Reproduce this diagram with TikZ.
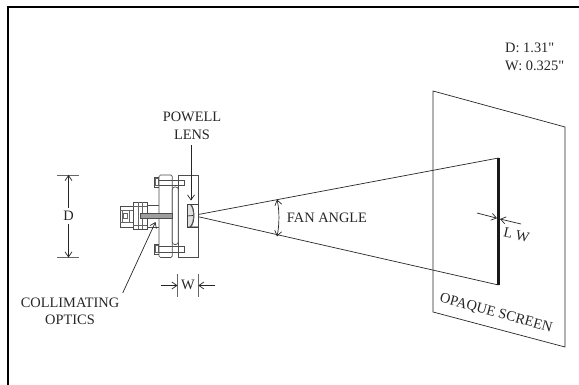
\documentclass[tikz,border=0pt]{standalone}
\usepackage{fontspec}
\setmainfont{Liberation Serif}
\newfontfamily\plainserif{Liberation Serif}
\usetikzlibrary{arrows.meta}
\tikzset{
  x=1pt,y=-1pt,
  lab/.style={font=\fontsize{14.4}{17.5}\selectfont,text=black!85,inner sep=0pt,align=center},
  part/.style={draw=black!70,line width=0.7pt},
  fine/.style={draw=black!60,line width=0.5pt},
  ray/.style={draw=black!85,line width=0.7pt},
  dimline/.style={draw=black!85,line width=0.7pt,{Straight Barb[length=5pt,width=7pt]}-{Straight Barb[length=5pt,width=7pt]}},
  onearrow/.style={draw=black!85,line width=0.7pt,-{Straight Barb[length=5pt,width=7pt]}},
  tick/.style={draw=black!60,line width=0.8pt},
}
\begin{document}
\begin{tikzpicture}
\useasboundingbox (0,0) rectangle (579,385);
% frame
\draw[line width=2pt] (8,385) -- (8,7.5) -- (579,7.5);
% screen
\draw[ray] (433,91) -- (565,127) -- (565,347) -- (433,312) -- cycle;
% text
\node[lab,align=left,anchor=west,font=\fontsize{14.4}{17.5}\plainserif] (spec) at (505,57) {D: 1.31"\\W: 0.325"};
\node[lab] (powell) at (192,126) {POWELL\\LENS};
\node[lab] (coll) at (70,311.5) {COLLIMATING\\OPTICS};
\node[lab] (fan) at (327,218) {FAN ANGLE};
\node[lab,rotate=-15.5] (opaque) at (496,313.5) {OPAQUE SCREEN};
\node[lab,rotate=-13] (lw) at (516.5,235) {L W};
\node[lab] (dlab) at (68.5,216) {D};
\node[lab] (wlab) at (188,285) {W};
% fan
\coordinate (apex) at (193,215.5);
\coordinate (ltop) at (498.5,158);
\coordinate (lbot) at (498.5,285);
\draw[ray] (ltop) -- (apex) -- (lbot);
\draw[line width=2.2pt,black!90] (ltop) -- (lbot);
% fan angle arc
\draw[dimline] (277,199.5) .. controls (279.5,210) and (279.5,225) .. (277,236.5);
% LW marks
\coordinate (lwa) at (477,213);
\coordinate (lwb) at (521,224);
\coordinate (lwc) at (497,218.2);
\coordinate (lwd) at (500,219);
\draw[onearrow] (lwa) -- (lwc);
\draw[onearrow] (lwb) -- (lwd);
% D dimension
\coordinate (dt1) at (57,175); \coordinate (dt2) at (79,175);
\coordinate (db1) at (57,257.5); \coordinate (db2) at (79,257.5);
\coordinate (da) at (68.5,175); \coordinate (db) at (68.5,257.5);
\draw[tick] (dt1) -- (dt2);
\draw[tick] (db1) -- (db2);
\draw[onearrow] (dlab.north) ++(0,-3) -- (da);
\draw[onearrow] (dlab.south) ++(0,3) -- (db);
% W dimension
\coordinate (wa) at (177.8,274); \coordinate (wb) at (177.8,297);
\coordinate (wc) at (198,274); \coordinate (wd) at (198,297);
\draw[tick] (wa) -- (wb);
\draw[tick] (wc) -- (wd);
\coordinate (wl) at (161,285.5); \coordinate (wr) at (215,285.5);
\coordinate (wlt) at (177.5,285.5); \coordinate (wrt) at (198.3,285.5);
\draw[onearrow] (wl) -- (wlt);
\draw[onearrow] (wr) -- (wrt);
% collimator
\draw[part,fill=white] (120,206) rectangle (133,227);
\draw[fine] (120,210) -- (133,210) (120,222.5) -- (133,222.5);
\draw[fine] (122,210) rectangle (129,222.5);
\draw[fine] (123.5,213) rectangle (127,218.5);
\draw[part,fill=white] (133,202.5) rectangle (147,229);
\draw[fine] (138,202.5) -- (138,229) (142,202.5) -- (142,229);
\draw[fine] (133,206) -- (147,206) (133,225.5) -- (147,225.5);
\draw[part] (147,205.5) rectangle (159,227);
% screws behind plates
\draw[part,fill=white] (154,177) rectangle (159,187);
\draw[fine] (155.5,178.5) rectangle (158,185.5);
\draw[part,fill=white] (154,244) rectangle (159,254);
\draw[fine] (155.5,245.5) rectangle (158,252.5);
% plates
\draw[part] (178.3,175) rectangle (198.3,257.5);
\draw[part,fill=white,rounded corners=1.5pt] (159,175) rectangle (172.3,257.5);
\draw[part,fill=white,rounded corners=2.5pt] (172.3,187) rectangle (178.3,244.5);
\draw[part] (159,180) -- (184.5,180) -- (184.5,185) -- (159,185);
\draw[part] (159,246.5) -- (184.5,246.5) -- (184.5,252) -- (159,252);
% rod
\draw[draw=black!70,fill=black!38,line width=0.6pt] (140,213.2) rectangle (172.3,218.3);
% lens
\draw[draw=black!75,fill=black!55,line width=0.6pt] (187.3,204) rectangle (198.3,227);
\fill[white] (198,204.5) -- (192,204.5) .. controls (195,209) and (195,222) .. (192,226.5) -- (198,226.5) -- cycle;
\fill[black!12] (187.9,204.6) -- (190,204.6) .. controls (194,209) and (194,222) .. (190,226.4) -- (187.9,226.4) -- cycle;
\draw[draw=black!75,line width=0.6pt] (187.3,204) rectangle (198.3,227);
\draw[draw=black!75,line width=0.6pt] (190,204) .. controls (195.5,209) and (195.5,222) .. (190,227);
\draw[ray] (apex) -- (187.3,216);
% leader arrows
\coordinate (powtip) at (191,200.5);
\coordinate (colltip) at (155.5,222);
\coordinate (collstart) at (122.7,293);
\draw[onearrow] (powell.south -| powtip) ++(0,5) -- (powtip);
\draw[onearrow] (collstart) -- (colltip);
\end{tikzpicture}
\end{document}
